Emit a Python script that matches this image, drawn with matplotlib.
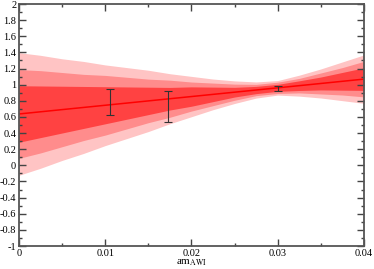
import matplotlib
matplotlib.use("Agg")
import matplotlib.pyplot as plt
from matplotlib.ticker import MultipleLocator, FuncFormatter

plt.rcParams['font.family'] = ['Liberation Serif', 'DejaVu Serif']
plt.rcParams['mathtext.fontset'] = 'stix'

# fit line and error bands
band_x = [0.0, 0.0025, 0.005, 0.0075, 0.01, 0.0125, 0.015, 0.0175, 0.02,
          0.0225, 0.025, 0.0275, 0.03, 0.0325, 0.035, 0.0375, 0.04]
band_mid = [0.637, 0.664, 0.691, 0.718, 0.745, 0.772, 0.799, 0.826, 0.853,
            0.880, 0.907, 0.934, 0.961, 0.988, 1.015, 1.042, 1.069]
half_outer = [0.76, 0.70, 0.63, 0.57, 0.50, 0.44, 0.38, 0.31, 0.25,
              0.19, 0.14, 0.10, 0.09, 0.13, 0.18, 0.24, 0.30]
half_middle = [0.55, 0.51, 0.46, 0.41, 0.37, 0.32, 0.27, 0.23, 0.18,
               0.14, 0.10, 0.07, 0.07, 0.09, 0.13, 0.17, 0.22]
half_inner = [0.35, 0.32, 0.29, 0.26, 0.23, 0.20, 0.17, 0.14, 0.12,
              0.09, 0.06, 0.045, 0.043, 0.06, 0.08, 0.11, 0.14]

# data points
pt_x = [0.01055, 0.01731, 0.03006]
pt_y = [0.785, 0.731, 0.957]
pt_err = [0.16, 0.19, 0.031]

fig = plt.figure(figsize=(3.74, 2.69), dpi=100)
ax = fig.add_axes([0.0508, 0.0855, 0.9222, 0.8995])

bands = [(half_outer, '#ffc4c4'), (half_middle, '#ff8c8c'), (half_inner, '#ff4242')]
for half, col in bands:
    lo = [m - h for m, h in zip(band_mid, half)]
    hi = [m + h for m, h in zip(band_mid, half)]
    ax.fill_between(band_x, lo, hi, color=col, lw=0)

ax.plot(band_x, band_mid, color='#ff0000', lw=1.1)
ax.errorbar(pt_x, pt_y, yerr=pt_err, fmt='none', ecolor='#333333',
            elinewidth=0.8, capsize=3, capthick=0.8)

ax.set_xlim(0, 0.04)
ax.set_ylim(-1, 2)
ax.xaxis.set_major_locator(MultipleLocator(0.01))
ax.xaxis.set_minor_locator(MultipleLocator(0.005))
ax.yaxis.set_major_locator(MultipleLocator(0.2))
ax.yaxis.set_minor_locator(MultipleLocator(0.1))
ax.xaxis.set_major_formatter(FuncFormatter(lambda v, p: '%g' % round(v, 4)))
ax.yaxis.set_major_formatter(FuncFormatter(lambda v, p: '%g' % round(v, 4)))

ax.tick_params(which='both', direction='in', top=True, right=True,
               labelsize=7.5, color='#444444', pad=2)
ax.tick_params(which='major', length=5, width=1.0)
ax.tick_params(which='minor', length=2.5, width=1.0)
for sp in ax.spines.values():
    sp.set_color('#555555')
    sp.set_linewidth(1.3)

ax.set_xlabel(r'am$_{\mathrm{AWI}}$', fontsize=8, labelpad=0)

fig.savefig('out.png', dpi=100)
